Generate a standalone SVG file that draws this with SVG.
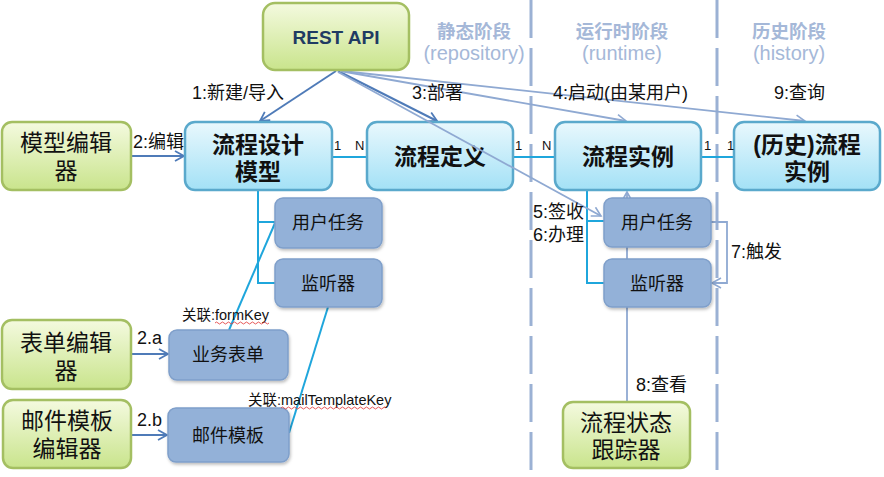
<svg xmlns="http://www.w3.org/2000/svg" width="884" height="477" viewBox="0 0 884 477">
<defs>
<linearGradient id="gBlue" x1="0" y1="0" x2="0" y2="1">
<stop offset="0" stop-color="#e9f8fd"/><stop offset="1" stop-color="#a3e1f6"/>
</linearGradient>
<linearGradient id="gGreen" x1="0" y1="0" x2="0" y2="1">
<stop offset="0" stop-color="#f4fadf"/><stop offset="1" stop-color="#c9e48c"/>
</linearGradient>
<marker id="aDark" markerWidth="12" markerHeight="12" refX="10" refY="6" orient="auto" markerUnits="userSpaceOnUse">
<polyline points="1,1 10,6 1,11" fill="none" stroke="#4f7bb8" stroke-width="1.8"/>
</marker>
<marker id="aLight" markerWidth="12" markerHeight="12" refX="10" refY="6" orient="auto" markerUnits="userSpaceOnUse">
<polyline points="1,1 10,6 1,11" fill="none" stroke="#8fa9d2" stroke-width="1.6"/>
</marker>
<filter id="sh" x="-10%" y="-10%" width="130%" height="140%">
<feDropShadow dx="1" dy="2" stdDeviation="1.5" flood-color="#000" flood-opacity="0.25"/>
</filter>
</defs>
<style>
text{font-family:"Liberation Sans","Noto Sans CJK SC",sans-serif;fill:#111}
.main{fill:url(#gBlue);stroke:#5aa9cc;stroke-width:2.5}
.green{fill:url(#gGreen);stroke:#a4bf62;stroke-width:2.5}
.sub{fill:#93b1d8;stroke:#7f9fca;stroke-width:1.5}
.t-main{font-size:23px;font-weight:bold;text-anchor:middle}
.t-green{font-size:23px;text-anchor:middle}
.t-sub{font-size:18px;text-anchor:middle}
.lbl{font-size:18px}
.small{font-size:14.5px}
.num{font-size:13px}
.phase{font-size:20px;fill:#a5b8d8;text-anchor:middle}
.phaseb{font-size:18.5px;fill:#a5b8d8;text-anchor:middle;font-weight:bold}
.dash{stroke:#9bb1d4;stroke-width:3;stroke-dasharray:38 10;fill:none}
.cyan{stroke:#1fa6dc;stroke-width:2;fill:none}
.dark{stroke:#4f7bb8;stroke-width:2;fill:none;marker-end:url(#aDark)}
.light{stroke:#8fa9d2;stroke-width:1.8;fill:none;marker-end:url(#aLight)}
.wavy{stroke:#e03030;stroke-width:0.8;fill:none}
</style>

<g id="phases">
<line class="dash" x1="531" y1="0" x2="531" y2="477"/>
<line class="dash" x1="717" y1="0" x2="717" y2="477"/>
<text class="phaseb" x="474" y="38">静态阶段</text>
<text class="phase" x="474" y="60">(repository)</text>
<text class="phaseb" x="622" y="38">运行时阶段</text>
<text class="phase" x="622" y="60">(runtime)</text>
<text class="phaseb" x="789" y="38">历史阶段</text>
<text class="phase" x="789" y="60">(history)</text>
</g>

<g id="connectors">
<line class="cyan" x1="332" y1="157" x2="367" y2="157"/>
<line class="cyan" x1="513" y1="157" x2="555" y2="157"/>
<line class="cyan" x1="701" y1="157" x2="734" y2="157"/>
<polyline class="cyan" points="258,190 258,283 275,283"/>
<line class="cyan" x1="258" y1="222" x2="275" y2="222"/>
<line class="cyan" x1="229" y1="330" x2="275" y2="223"/>
<line class="cyan" x1="328" y1="307" x2="289" y2="433"/>
<polyline class="cyan" points="587,190 587,283 604,283"/>
<line class="cyan" x1="587" y1="221" x2="604" y2="221"/>
<line class="light" x1="627" y1="402" x2="627" y2="192"/>
<line class="dark" x1="336" y1="71" x2="260" y2="121"/>
<line class="dark" x1="338" y1="71" x2="437" y2="121"/>
<line class="light" x1="340" y1="71" x2="626" y2="121"/>
<line class="light" x1="342" y1="71" x2="805" y2="121"/>
<line class="dark" x1="131" y1="156" x2="184" y2="156"/>
<line class="dark" x1="131" y1="354" x2="168" y2="354"/>
<line class="dark" x1="131" y1="435" x2="167" y2="435"/>
<polyline class="light" points="711,222 727,222 727,283 712,283"/>
</g>

<g id="rest-api">
<rect class="green" x="263" y="3" width="146" height="67" rx="12"/>
<text x="336" y="44" style="font-size:19px;font-weight:bold;fill:#1f3b63;text-anchor:middle">REST API</text>
</g>

<g id="model-editor">
<rect class="green" x="2" y="122" width="129" height="68" rx="10"/>
<text class="t-green" x="66" y="151">模型编辑</text>
<text class="t-green" x="66" y="179">器</text>
</g>
<g id="design-model">
<rect class="main" x="185" y="122" width="147" height="68" rx="10"/>
<text class="t-main" x="258" y="153">流程设计</text>
<text class="t-main" x="258" y="180">模型</text>
</g>
<g id="definition">
<rect class="main" x="367" y="122" width="146" height="68" rx="10"/>
<text class="t-main" x="440" y="165">流程定义</text>
</g>
<g id="instance">
<rect class="main" x="555" y="122" width="146" height="68" rx="10"/>
<text class="t-main" x="628" y="165">流程实例</text>
</g>
<g id="history-instance">
<rect class="main" x="734" y="122" width="146" height="68" rx="10"/>
<text class="t-main" x="807" y="153">(历史)流程</text>
<text class="t-main" x="807" y="180">实例</text>
</g>

<g id="usertask-left">
<rect class="sub" x="275" y="198" width="107" height="50" rx="8" filter="url(#sh)"/>
<text class="t-sub" x="328" y="229">用户任务</text>
</g>
<g id="listener-left">
<rect class="sub" x="275" y="259" width="107" height="48" rx="8" filter="url(#sh)"/>
<text class="t-sub" x="328" y="290">监听器</text>
</g>
<g id="form">
<rect class="sub" x="169" y="330" width="119" height="50" rx="8" filter="url(#sh)"/>
<text class="t-sub" x="228" y="361">业务表单</text>
</g>
<g id="mail-template">
<rect class="sub" x="168" y="408" width="121" height="54" rx="8" filter="url(#sh)"/>
<text class="t-sub" x="228" y="442">邮件模板</text>
</g>
<g id="form-editor">
<rect class="green" x="2" y="320" width="129" height="69" rx="10"/>
<text class="t-green" x="66" y="351">表单编辑</text>
<text class="t-green" x="66" y="379">器</text>
</g>
<g id="mail-editor">
<rect class="green" x="3" y="400" width="128" height="68" rx="10"/>
<text class="t-green" x="67" y="429">邮件模板</text>
<text class="t-green" x="67" y="457">编辑器</text>
</g>

<g id="usertask-right">
<rect class="sub" x="604" y="198" width="107" height="49" rx="8" filter="url(#sh)"/>
<text class="t-sub" x="657" y="229">用户任务</text>
</g>
<g id="listener-right">
<rect class="sub" x="604" y="259" width="107" height="48" rx="8" filter="url(#sh)"/>
<text class="t-sub" x="657" y="290">监听器</text>
</g>
<g id="tracker">
<rect class="green" x="563" y="402" width="127" height="66" rx="10"/>
<text class="t-green" x="626" y="431">流程状态</text>
<text class="t-green" x="626" y="458">跟踪器</text>
</g>

<g id="connector-over">
<line class="light" x1="338" y1="72" x2="601" y2="216"/>
</g>

<g id="labels">
<text class="lbl" x="192" y="99">1:新建/导入</text>
<text class="lbl" x="412" y="99">3:部署</text>
<text class="lbl" x="553" y="99">4:启动(由某用户)</text>
<text class="lbl" x="774" y="99">9:查询</text>
<text class="lbl" x="133" y="148">2:编辑</text>
<text class="lbl" x="137" y="344">2.a</text>
<text class="lbl" x="137" y="426">2.b</text>
<text class="lbl" x="533" y="218">5:签收</text>
<text class="lbl" x="533" y="241">6:办理</text>
<text class="lbl" x="731" y="258">7:触发</text>
<text class="lbl" x="636" y="391">8:查看</text>
<text class="num" x="334" y="150">1</text>
<text class="num" x="355" y="150">N</text>
<text class="num" x="515" y="150">1</text>
<text class="num" x="542" y="150">N</text>
<text class="num" x="704" y="150">1</text>
<text class="num" x="727" y="150">1</text>
<text class="small" x="182" y="320">关联:formKey</text>
<path class="wavy" d="M215,323 q1.5,-2 3,0 t3,0 t3,0 t3,0 t3,0 t3,0 t3,0 t3,0 t3,0 t3,0 t3,0 t3,0 t3,0 t3,0 t3,0 t3,0 t3,0 t3,0"/>
<text class="small" x="248" y="405">关联:mailTemplateKey</text>
<path class="wavy" d="M281,408 q1.5,-2 3,0 t3,0 t3,0 t3,0 t3,0 t3,0 t3,0 t3,0 t3,0 t3,0 t3,0 t3,0 t3,0 t3,0 t3,0 t3,0 t3,0 t3,0 t3,0 t3,0 t3,0 t3,0 t3,0 t3,0 t3,0 t3,0 t3,0 t3,0 t3,0 t3,0 t3,0 t3,0 t3,0 t3,0 t3,0"/>
</g>
</svg>
